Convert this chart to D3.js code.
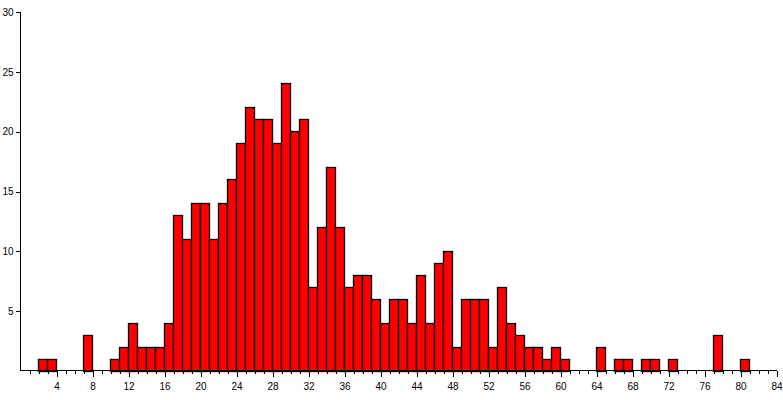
<!DOCTYPE html>
<html>
<head>
<meta charset="utf-8">
<script src="https://cdn.jsdelivr.net/npm/d3@7"></script>
<style>
  html, body { margin: 0; padding: 0; background: #fff; }
  svg { display: block; }
</style>
</head>
<body>
<svg id="chart" width="783" height="400"></svg>
<script>
// Histogram bins (left edge of each unit-wide bin) and counts
const binStarts = [2,3,4,5,6,7,8,9,10,11,12,13,14,15,16,17,18,19,20,21,22,23,24,25,26,27,28,29,30,31,32,33,34,35,36,37,38,39,40,41,42,43,44,45,46,47,48,49,50,51,52,53,54,55,56,57,58,59,60,61,62,63,64,65,66,67,68,69,70,71,72,73,74,75,76,77,78,79,80];
const counts    = [1,1,0,0,0,3,0,0,1,2,4,2,2,2,4,13,11,14,14,11,14,16,19,22,21,21,19,24,20,21,7,12,17,12,7,8,8,6,4,6,6,4,8,4,9,10,2,6,6,6,2,7,4,3,2,2,1,2,1,0,0,0,2,0,1,1,0,1,1,0,1,0,0,0,0,3,0,0,1];
const xTickLabels = [4,8,12,16,20,24,28,32,36,40,44,48,52,56,60,64,68,72,76,80,84];
const yTickLabels = [5,10,15,20,25,30];

const svg = d3.select("#chart");
const x = d3.scaleLinear().domain([0, 84]).range([20, 776]);
const y = d3.scaleLinear().domain([0, 30]).range([370.5, 11.5]);

const data = binStarts.map((b, i) => ({ b, c: counts[i] })).filter(d => d.c > 0);

svg.append("g")
  .selectAll("rect")
  .data(data)
  .join("rect")
  .attr("x", d => Math.round(x(d.b)) + 0.5)
  .attr("y", d => Math.round(y(d.c)) + 0.5)
  .attr("width", d => Math.round(x(d.b + 1)) - Math.round(x(d.b)))
  .attr("height", d => Math.round(y(0)) - Math.round(y(d.c)))
  .attr("fill", "#ff0000")
  .attr("stroke", "#000")
  .attr("stroke-width", 1.3);

// minor x ticks
const minor = d3.range(1, 85);
svg.append("g")
  .attr("transform", "translate(0.5,370.5)")
  .call(d3.axisBottom(x).tickValues(minor).tickSize(3).tickFormat("").tickSizeOuter(0))
  .call(g => g.select(".domain").remove());

// major x ticks
svg.append("g")
  .attr("transform", "translate(0.5,370.5)")
  .attr("font-family", "Liberation Sans, Arial, sans-serif")
  .attr("font-size", 12)
  .call(d3.axisBottom(x).tickValues(xTickLabels).tickSize(6).tickPadding(6).tickSizeOuter(0))
  .call(g => g.select(".domain").attr("d", `M${x(0)},0H${x(84)}`));

// y axis
svg.append("g")
  .attr("transform", "translate(20.5,0.5)")
  .attr("font-family", "Liberation Sans, Arial, sans-serif")
  .attr("font-size", 12)
  .call(d3.axisLeft(y).tickValues(yTickLabels).tickSize(5).tickPadding(2).tickSizeOuter(0))
  .call(g => g.select(".domain").attr("d", `M0,${y(30)}V${y(0)}`));

svg.selectAll(".tick line, .domain").attr("shape-rendering", "crispEdges");
</script>
</body>
</html>
